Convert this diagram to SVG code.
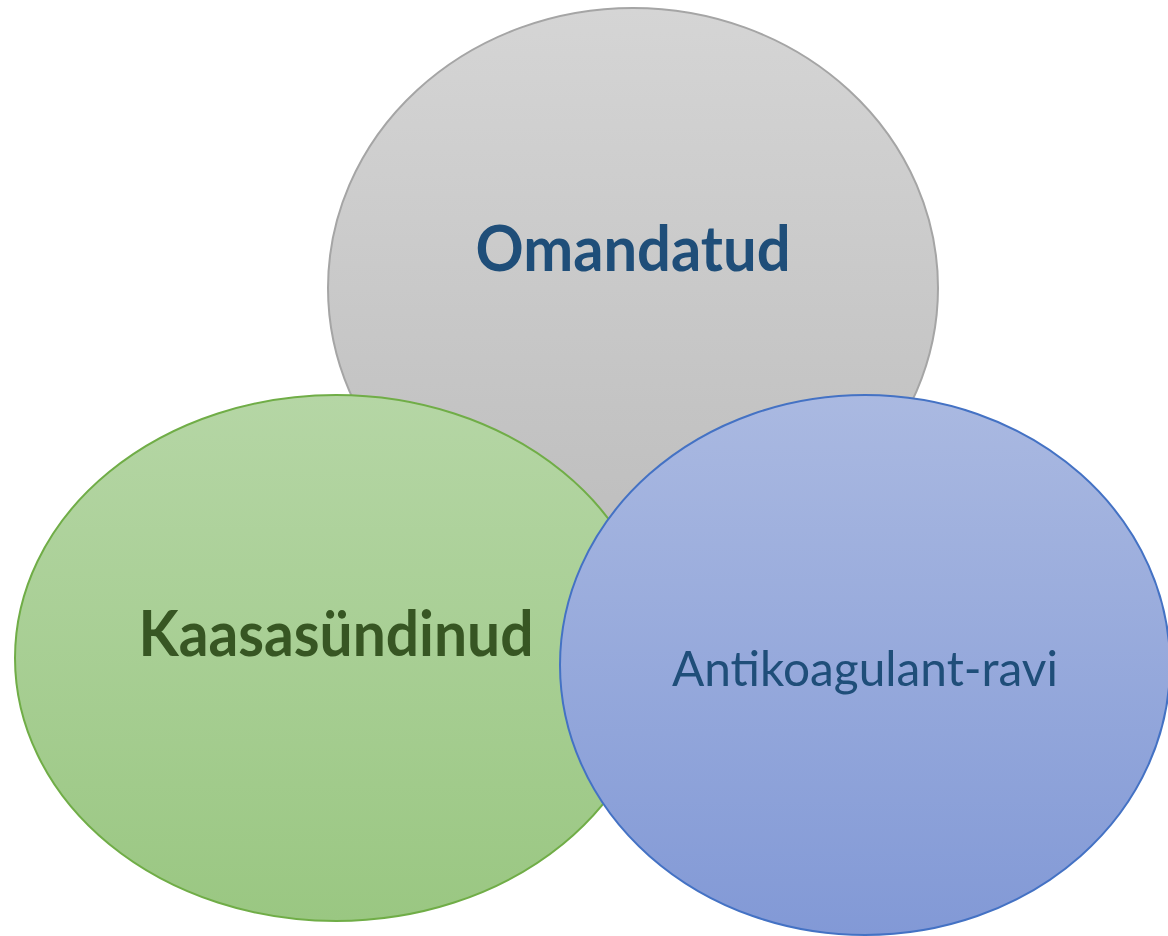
<svg xmlns="http://www.w3.org/2000/svg" width="1168" height="936" viewBox="0 0 1168 936">
<style>
.lbl{font-family:Lato,"Open Sans","Liberation Sans",sans-serif;text-anchor:middle}
.b{font-weight:bold}
</style>
<defs>
<linearGradient id="gGray" x1="0" y1="0" x2="0" y2="1">
<stop offset="0" stop-color="#d5d5d5"/><stop offset="1" stop-color="#bdbdbd"/>
</linearGradient>
<linearGradient id="gGreen" x1="0" y1="0" x2="0" y2="1">
<stop offset="0" stop-color="#b5d6a5"/><stop offset="1" stop-color="#9ac782"/>
</linearGradient>
<linearGradient id="gBlue" x1="0" y1="0" x2="0" y2="1">
<stop offset="0" stop-color="#aab9e1"/><stop offset="1" stop-color="#8299d6"/>
</linearGradient>
</defs>
<rect width="1168" height="936" fill="#ffffff"/>
<g id="omandatud">
<ellipse cx="633" cy="288" rx="305" ry="280" fill="url(#gGray)" stroke="#a5a5a5" stroke-width="2"/>
<text class="lbl b" x="633" y="271" font-size="63" fill="#1f4e79" textLength="315" lengthAdjust="spacingAndGlyphs">Omandatud</text>
</g>
<g id="kaasasundinud">
<ellipse cx="336" cy="658" rx="321" ry="263" fill="url(#gGreen)" stroke="#70ad47" stroke-width="2"/>
<text class="lbl b" x="336" y="656" font-size="63" fill="#375623" textLength="395" lengthAdjust="spacingAndGlyphs">Kaasasündinud</text>
</g>
<g id="antikoagulant">
<ellipse cx="865" cy="665" rx="305" ry="270" fill="url(#gBlue)" stroke="#4472c4" stroke-width="2"/>
<text class="lbl" x="865" y="686" font-size="49" fill="#1f4e79" textLength="386" lengthAdjust="spacingAndGlyphs">Antikoagulant-ravi</text>
</g>
<g id="connectors"/>
</svg>
